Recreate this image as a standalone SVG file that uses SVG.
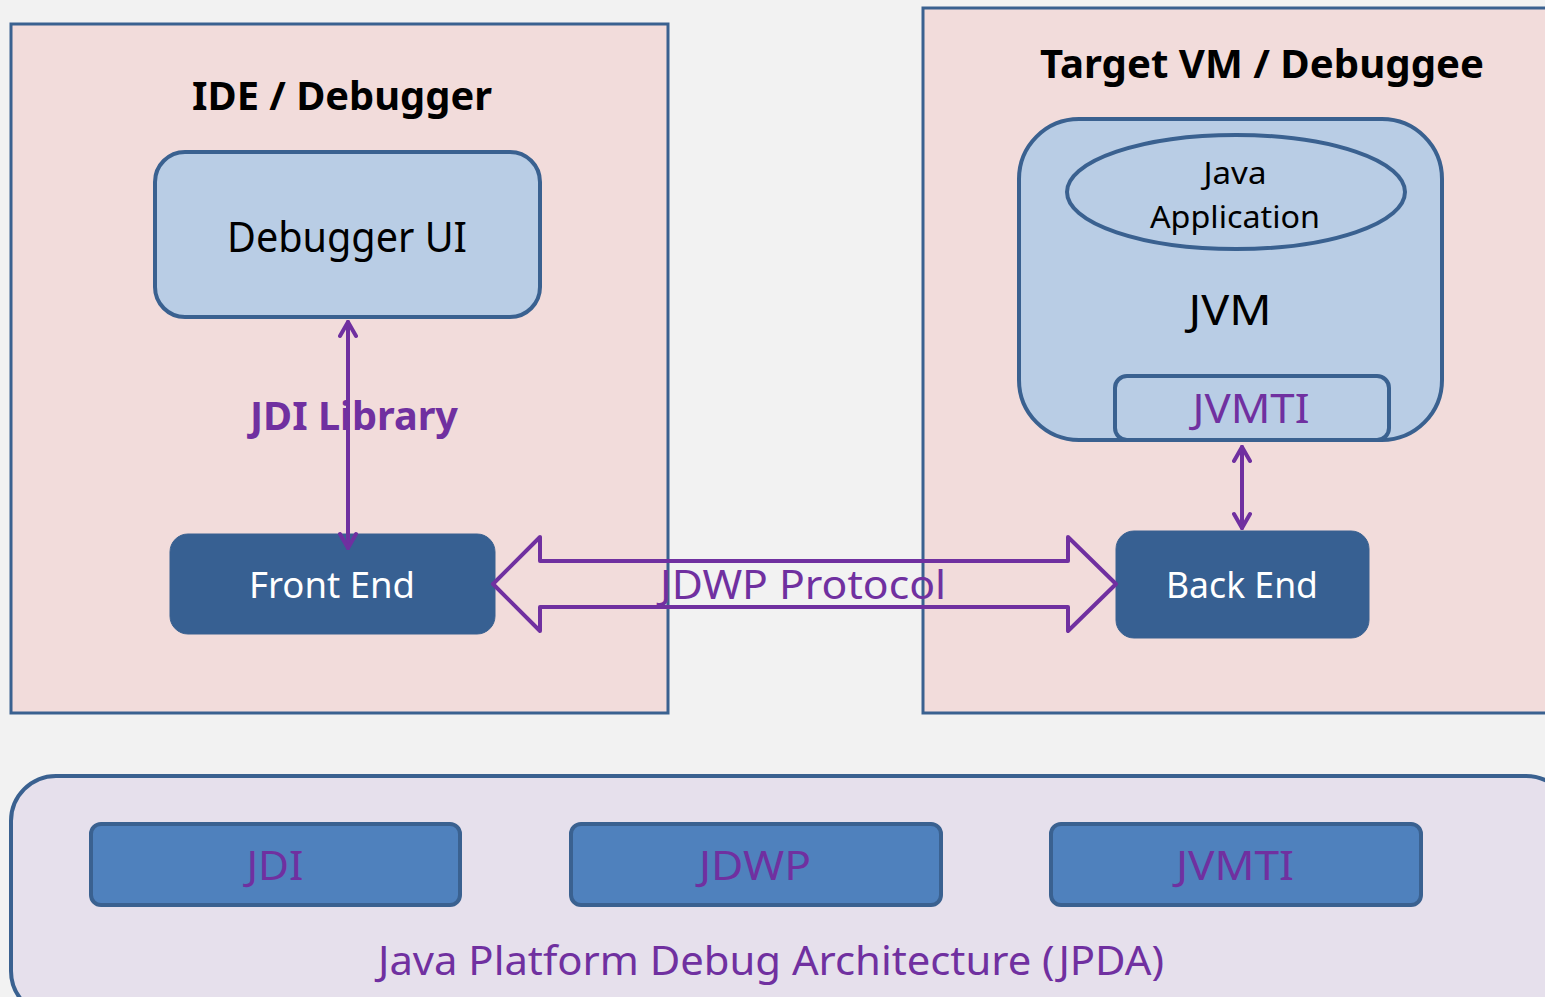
<svg xmlns="http://www.w3.org/2000/svg" width="1545" height="997" viewBox="0 0 1545 997">
<defs>
<style>
.t{font-family:"Noto Sans","Open Sans","Liberation Sans",sans-serif;text-anchor:middle}
.b{font-weight:bold}
.pur{fill:#7030a0}
.blk{fill:#000}
.wht{fill:#fff}
.panel{fill:#f2dcdb;stroke:#3a6190;stroke-width:3}
.lb{fill:#b9cde5;stroke:#3a6190;stroke-width:4}
.db{fill:#376092;stroke:#3a6190;stroke-width:1}
.mb{fill:#4f81bd;stroke:#3a6190;stroke-width:4}
.conn{stroke:#7030a0;stroke-width:4;fill:none;stroke-linecap:round;stroke-linejoin:round}
</style>
<marker id="ah" viewBox="0 0 20 20" refX="18" refY="10" markerWidth="20" markerHeight="20" markerUnits="userSpaceOnUse" orient="auto-start-reverse">
<path d="M4,2 L18,10 L4,18" fill="none" stroke="#7030a0" stroke-width="4" stroke-linecap="round" stroke-linejoin="round"/>
</marker>
</defs>
<rect width="1545" height="997" fill="#f2f2f2"/>

<g id="ide-panel">
<rect class="panel" x="11" y="24" width="657" height="689"/>
<text class="t b blk" x="342" y="110" font-size="40" textLength="300" lengthAdjust="spacingAndGlyphs">IDE / Debugger</text>
</g>

<g id="target-panel">
<rect class="panel" x="923" y="8" width="640" height="705"/>
<text class="t b blk" x="1262" y="78" font-size="40" textLength="444" lengthAdjust="spacingAndGlyphs">Target VM / Debuggee</text>
</g>

<g id="debugger-ui">
<rect class="lb" x="155" y="152" width="385" height="165" rx="30"/>
<text class="t blk" x="347" y="252" font-size="42" textLength="240" lengthAdjust="spacingAndGlyphs">Debugger UI</text>
</g>

<g id="front-end">
<rect class="db" x="170" y="534" width="325" height="100" rx="18"/>
<text class="t wht" x="332" y="598" font-size="36" textLength="166" lengthAdjust="spacingAndGlyphs">Front End</text>
</g>

<g id="jvm">
<rect class="lb" x="1019" y="119" width="423" height="321" rx="60"/>
<text class="t blk" x="1230" y="325" font-size="42" textLength="83" lengthAdjust="spacingAndGlyphs">JVM</text>
</g>

<g id="java-application">
<ellipse class="lb" cx="1236" cy="192" rx="169" ry="57"/>
<text class="t blk" x="1235" y="184" font-size="31" textLength="63" lengthAdjust="spacingAndGlyphs">Java</text>
<text class="t blk" x="1235" y="228" font-size="31" textLength="170" lengthAdjust="spacingAndGlyphs">Application</text>
</g>

<g id="jvmti-inner">
<rect class="lb" x="1115" y="376" width="274" height="64" rx="12"/>
<text class="t pur" x="1251" y="423" font-size="40" textLength="117" lengthAdjust="spacingAndGlyphs">JVMTI</text>
</g>

<g id="back-end">
<rect class="db" x="1116" y="531" width="253" height="107" rx="18"/>
<text class="t wht" x="1242" y="598" font-size="36" textLength="152" lengthAdjust="spacingAndGlyphs">Back End</text>
</g>

<g id="connectors">
<line class="conn" x1="348" y1="322" x2="348" y2="548" marker-start="url(#ah)" marker-end="url(#ah)"/>
<text class="t b pur" x="354" y="430" font-size="40" textLength="208" lengthAdjust="spacingAndGlyphs">JDI Library</text>
<line class="conn" x1="1242" y1="447" x2="1242" y2="528" marker-start="url(#ah)" marker-end="url(#ah)"/>
<path class="conn" d="M493,584 L540,537 L540,561 L1068,561 L1068,537 L1116,584 L1068,631 L1068,607 L540,607 L540,631 Z"/>
<text class="t pur" x="803" y="599" font-size="40" textLength="286" lengthAdjust="spacingAndGlyphs">JDWP Protocol</text>
</g>

<g id="jpda">
<rect x="11" y="776" width="1560" height="240" rx="45" fill="#e6e0ec" stroke="#3a6190" stroke-width="4"/>
<text class="t pur" x="771" y="975" font-size="40" textLength="786" lengthAdjust="spacingAndGlyphs">Java Platform Debug Architecture (JPDA)</text>
</g>

<g id="jdi">
<rect class="mb" x="91" y="824" width="369" height="81" rx="10"/>
<text class="t pur" x="275" y="880" font-size="40" textLength="57" lengthAdjust="spacingAndGlyphs">JDI</text>
</g>

<g id="jdwp">
<rect class="mb" x="571" y="824" width="370" height="81" rx="10"/>
<text class="t pur" x="755" y="880" font-size="40" textLength="112" lengthAdjust="spacingAndGlyphs">JDWP</text>
</g>

<g id="jvmti">
<rect class="mb" x="1051" y="824" width="370" height="81" rx="10"/>
<text class="t pur" x="1235" y="880" font-size="40" textLength="118" lengthAdjust="spacingAndGlyphs">JVMTI</text>
</g>
</svg>
